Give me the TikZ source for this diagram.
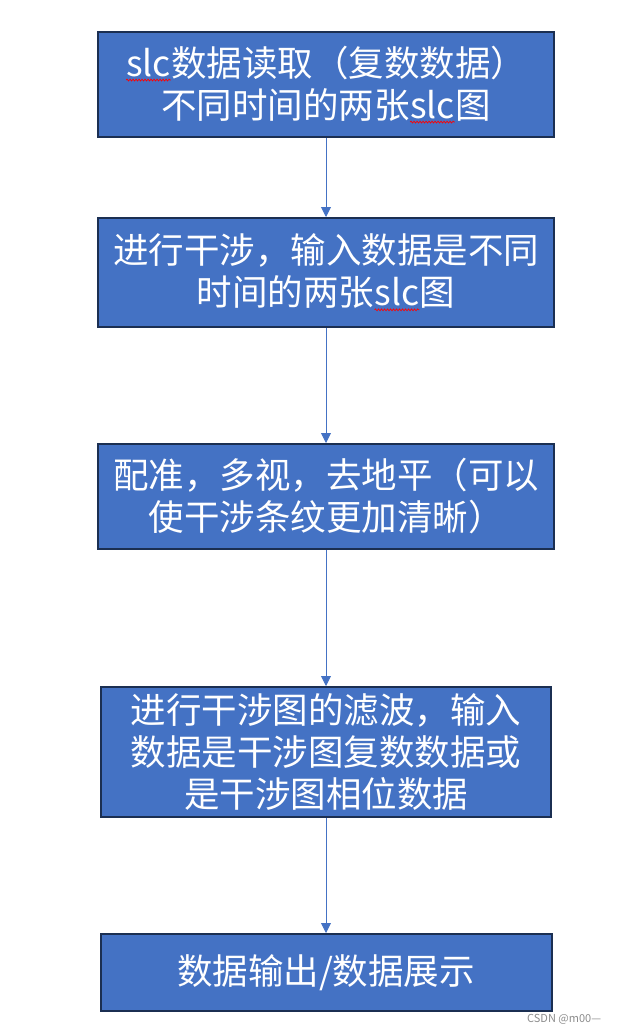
\documentclass[tikz,border=0pt]{standalone}
\usepackage{fontspec}
\setmainfont{Noto Sans CJK SC}
\usepackage{tikz}
\usetikzlibrary{positioning, arrows.meta, decorations.pathmorphing}
\definecolor{boxfill}{HTML}{4472C4}
\definecolor{boxline}{HTML}{1B2F52}
\definecolor{arrowcol}{HTML}{4472C4}
% red wavy spell-check mark under a word
\newcommand{\wavy}[1]{\tikz[baseline = (w.base), x = 1cm, y = 1cm]{%
  \node[draw = none, fill = none, inner sep = 0pt, outer sep = 0pt,
    minimum width = 0pt, minimum height = 0pt, text = white] (w) {#1};
  \draw[draw = red, fill = none, line width = 0.7pt, decorate,
    decoration = {snake, amplitude = 0.9pt, segment length = 3pt}]
    ([yshift = -4pt]w.base west) -- ([yshift = -4pt]w.base east);}}

\begin{document}
\begin{tikzpicture}[
    x = 1pt, y = -1pt, > = latex, align = center,
    stepbox/.style = {
      rectangle, draw = boxline, line width = 2pt, fill = boxfill,
      text = white, inner sep = 0pt, minimum width = 456pt,
      font = \fontsize{35.5}{42}\selectfont
    },
    path/.style = {
      draw = arrowcol, line width = 0.9pt,
      -{Triangle[width = 10pt, length = 10pt]}
    },
    watermark/.style = {
      text = black!45, font = \fontsize{11}{13}\selectfont, inner sep = 0pt
    },
    ]
    \useasboundingbox (0,0) rectangle (622,1033);

    % draw nodes
    \node  [stepbox, minimum height = 105pt]  (box1)  at (326,84.5)
      {\wavy{slc}数据读取（复数数据）\\不同时间的两张\wavy{slc}图};
    \node  [stepbox, minimum height = 109pt]  (box2)  [below = 79pt of box1]
      {进行干涉，输入数据是不同\\时间的两张\wavy{slc}图};
    \node  [stepbox, minimum height = 105pt]  (box3)  [below = 115pt of box2]
      {配准，多视，去地平（可以\\使干涉条纹更加清晰）};
    \node  [stepbox, minimum height = 130pt, minimum width = 450pt]  (box4)  [below = 136pt of box3]
      {进行干涉图的滤波，输入\\数据是干涉图复数数据或\\是干涉图相位数据};
    \node  [stepbox, minimum height = 77pt, minimum width = 451pt]  (box5)  [below = 115pt of box4]
      {数据输出/数据展示};

    % draw paths
    \foreach \i [remember = \i as \lasti (initially 1)] in {2, ..., 5}
    \draw  [path]  (box\lasti)  --  (box\i);

    \node  [watermark, anchor = west]  (csdn)  at (527,1019)  {CSDN @m00—};
\end{tikzpicture}
\end{document}
